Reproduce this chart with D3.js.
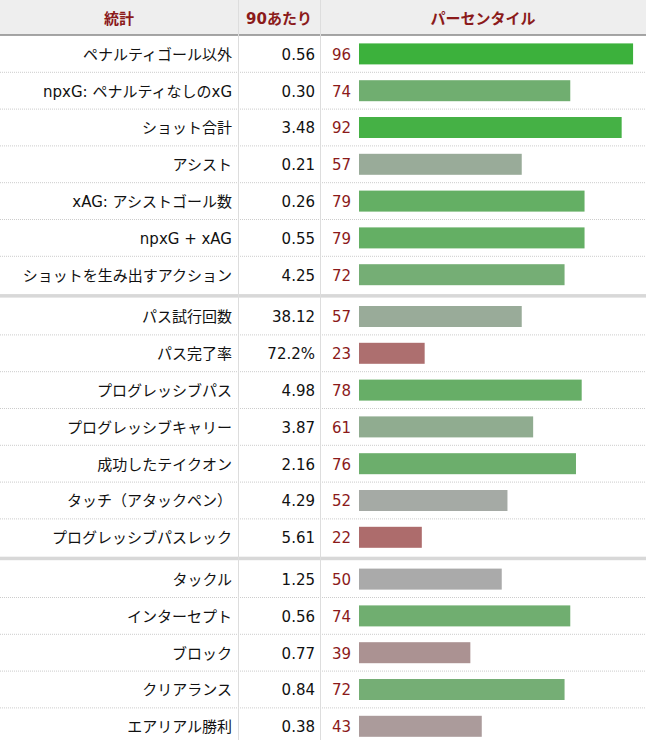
<!DOCTYPE html>
<html><head><meta charset="utf-8">
<script src="https://cdn.jsdelivr.net/npm/d3@7"></script>
<style>body{margin:0;background:#fff}text{font-family:"DejaVu Sans","Noto Sans CJK JP",sans-serif}</style>
</head><body><svg id="c" width="646" height="740"></svg>
<script>
const headers = ["統計","90あたり","パーセンタイル"];
const stats = ["ペナルティゴール以外","npxG: ペナルティなしのxG","ショット合計","アシスト","xAG: アシストゴール数","npxG + xAG","ショットを生み出すアクション",
"パス試行回数","パス完了率","プログレッシブパス","プログレッシブキャリー","成功したテイクオン","タッチ（アタックペン）","プログレッシブパスレック",
"タックル","インターセプト","ブロック","クリアランス","エアリアル勝利"];
const per90 = ["0.56","0.30","3.48","0.21","0.26","0.55","4.25","38.12","72.2%","4.98","3.87","2.16","4.29","5.61","1.25","0.56","0.77","0.84","0.38"];
const pct = [96,74,92,57,79,79,72,57,23,78,61,76,52,22,50,74,39,72,43];
const groups = [0,0,0,0,0,0,0,1,1,1,1,1,1,1,2,2,2,2,2];

const svg = d3.select("#c");
const W = 646, headH = 35, rowH = 36.8, gap = 5;
const rowY = i => headH + 1 + i*rowH + groups[i]*gap;
const x = d3.scaleLinear().domain([0,100]).range([359,644.5]);
const color = d3.scaleLinear().domain([0,50,100]).range(["#b03c3c","#aaaaaa","#32b232"]);

svg.append("rect").attr("width",W).attr("height",headH).attr("fill","#eeeeee");
svg.append("line").attr("x1",0).attr("x2",W).attr("y1",headH).attr("y2",headH).attr("stroke","#888").attr("stroke-width",1.5);
const hx = [119, 279, 483];
headers.forEach((h,i)=>svg.append("text").attr("x",hx[i]).attr("y",24).attr("text-anchor","middle")
  .attr("font-size",15).attr("font-weight","bold").attr("fill","#8b1a1a").text(h));

// group separators
[1,2].forEach(g=>{
  const i = groups.indexOf(g);
  svg.append("rect").attr("x",0).attr("width",W).attr("y",rowY(i)-gap+0.5).attr("height",3.5).attr("fill","#d8d8d8");
});

const rows = svg.selectAll("g.row").data(stats).join("g").attr("transform",(d,i)=>`translate(0,${rowY(i)})`);
rows.append("line").attr("x1",0).attr("x2",W).attr("y1",rowH-0.5).attr("y2",rowH-0.5)
  .attr("stroke","#ccc").attr("stroke-dasharray","1,1").attr("stroke-width",(d,i)=>groups[i+1]!==undefined&&groups[i+1]!==groups[i]?0:1);
rows.append("text").attr("x",232).attr("y",rowH/2+5.5).attr("text-anchor","end").attr("font-size",15).attr("fill","#111").text(d=>d);
rows.append("text").attr("x",315).attr("y",rowH/2+5.5).attr("text-anchor","end").attr("font-size",15).attr("fill","#111").text((d,i)=>per90[i]);
rows.append("text").attr("x",332).attr("y",rowH/2+5.5).attr("font-size",15).attr("fill","#8b1a1a").text((d,i)=>pct[i]);
rows.append("rect").attr("x",x(0)).attr("y",rowH/2-11).attr("height",21)
  .attr("width",(d,i)=>x(pct[i])-x(0)).attr("fill",(d,i)=>color(pct[i]));

[238.5,320.5].forEach(cx=>svg.append("line").attr("x1",cx).attr("x2",cx).attr("y1",0).attr("y2",740).attr("stroke","#ddd"));
</script></body></html>
